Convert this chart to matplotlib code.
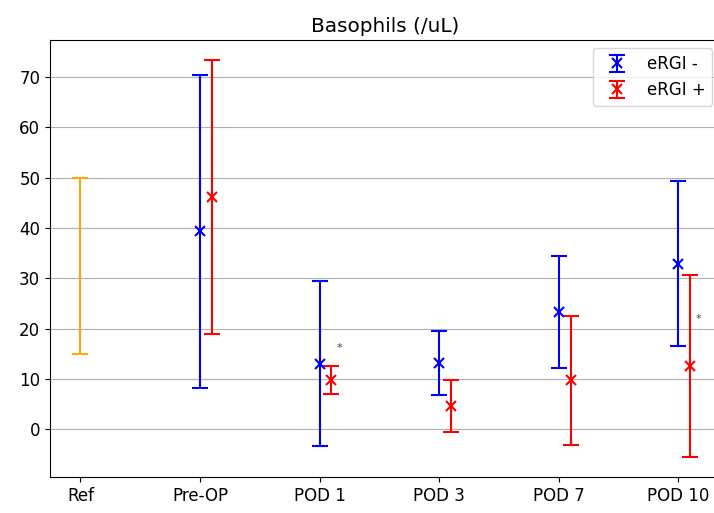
import numpy as np
import matplotlib.pyplot as plt

categories = ['Ref', 'Pre-OP', 'POD 1', 'POD 3', 'POD 7', 'POD 10']

# reference range
ref_low, ref_high = 15.0, 50.0

# eRGI - (mean, error) for Pre-OP .. POD 10
neg_mean = [39.3, 13.0, 13.15, 23.25, 32.9]
neg_err = [31.1, 16.4, 6.35, 11.15, 16.4]

# eRGI + (mean, error)
pos_mean = [46.2, 9.8, 4.55, 9.7, 12.5]
pos_err = [27.2, 2.85, 5.15, 12.85, 18.05]

# significance markers (category index, y)
stars = [(2, 16.1), (5, 21.9)]

offset = 0.1

plt.rcParams['font.size'] = 12

fig = plt.figure(figsize=(7.14, 5.13), dpi=100)
ax = fig.add_axes([50 / 714, 36 / 513, 670.5 / 714, 437 / 513])

x = np.arange(1, len(categories))

ax.errorbar([0], [(ref_low + ref_high) / 2], yerr=[(ref_high - ref_low) / 2],
            fmt='none', ecolor='orange', capsize=6, elinewidth=1.5, capthick=1.5)
ax.errorbar(x, neg_mean, yerr=neg_err, fmt='x', color='blue', capsize=6,
            elinewidth=1.5, capthick=1.5, markersize=7, mew=1.5, label='eRGI -')
ax.errorbar(x + offset, pos_mean, yerr=pos_err, fmt='x', color='red', capsize=6,
            elinewidth=1.5, capthick=1.5, markersize=7, mew=1.5, label='eRGI +')

for i, y in stars:
    ax.text(i + 0.17, y, '*', fontsize=8, color='#444444', ha='center', va='center')

ax.set_xticks(np.arange(len(categories)))
ax.set_xticklabels(categories)
ax.yaxis.grid(True, color='#b0b0b0')
ax.set_axisbelow(True)
ax.set_title('Basophils (/uL)', fontsize=14.4)
ax.legend(loc='upper right')

fig.savefig('out.png', dpi=100)
